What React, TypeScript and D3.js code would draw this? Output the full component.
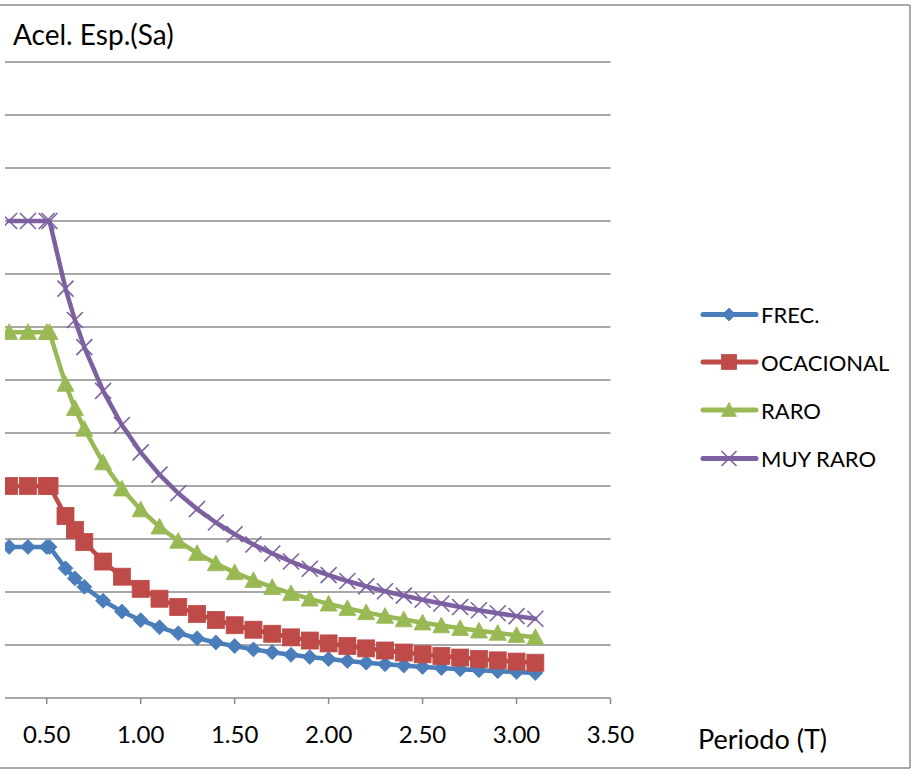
import React from "react";
import * as d3 from "d3";

// Periodo T (s)
const periods = [0.3, 0.4, 0.5, 0.515, 0.6, 0.65, 0.7, 0.8, 0.9, 1.0, 1.1, 1.2, 1.3, 1.4, 1.5, 1.6, 1.7, 1.8, 1.9, 2.0, 2.1, 2.2, 2.3, 2.4, 2.5, 2.6, 2.7, 2.8, 2.9, 3.0, 3.1];

const frec = [0.285, 0.285, 0.285, 0.285, 0.2446, 0.2258, 0.2097, 0.1835, 0.1631, 0.1468, 0.1334, 0.1223, 0.1129, 0.1048, 0.0979, 0.0917, 0.0863, 0.0815, 0.0773, 0.0734, 0.0699, 0.0667, 0.0638, 0.0612, 0.0587, 0.0565, 0.0544, 0.0524, 0.0506, 0.0489, 0.0473];
const ocacional = [0.4, 0.4, 0.4, 0.4, 0.3433, 0.3169, 0.2943, 0.2575, 0.2289, 0.206, 0.1873, 0.1717, 0.1585, 0.1471, 0.1373, 0.1288, 0.1212, 0.1144, 0.1084, 0.103, 0.0981, 0.0936, 0.0896, 0.0858, 0.0824, 0.0792, 0.0763, 0.0736, 0.071, 0.0687, 0.0665];
const raro = [0.69, 0.69, 0.69, 0.69, 0.5923, 0.5467, 0.5076, 0.4442, 0.3948, 0.3554, 0.323, 0.2961, 0.2733, 0.2538, 0.2369, 0.2221, 0.209, 0.1974, 0.187, 0.1777, 0.1692, 0.1615, 0.1545, 0.1481, 0.1421, 0.1367, 0.1316, 0.1269, 0.1225, 0.1185, 0.1146];
const muyRaro = [0.9, 0.9, 0.9, 0.9, 0.7725, 0.7131, 0.6621, 0.5794, 0.515, 0.4635, 0.4214, 0.3863, 0.3565, 0.3311, 0.309, 0.2897, 0.2726, 0.2575, 0.2439, 0.2318, 0.2207, 0.2107, 0.2015, 0.1931, 0.1854, 0.1783, 0.1717, 0.1655, 0.1598, 0.1545, 0.1495];

const seriesNames = ["FREC.", "OCACIONAL", "RARO", "MUY RARO"];
const seriesColors = ["#4A7EBB", "#BE4B48", "#98B954", "#7D60A0"];
const markerKinds = ["diamond", "square", "triangle", "x"];
const xTicks = [0.5, 1.0, 1.5, 2.0, 2.5, 3.0, 3.5];
const yTicks = [0, 0.1, 0.2, 0.3, 0.4, 0.5, 0.6, 0.7, 0.8, 0.9, 1.0, 1.1, 1.2];

const xTitle = "Periodo (T)";
const yTitle = "Acel. Esp.(Sa)";

const FONT = "Lato, 'Open Sans', sans-serif";

function Marker({ kind, color, size }: { kind: string; color: string; size: number }) {
  const r = size / 2;
  if (kind === "diamond") {
    return <path d={`M0,${-r}L${r},0L0,${r}L${-r},0Z`} fill={color} stroke={color} strokeWidth={0.8} />;
  }
  if (kind === "square") {
    return <rect x={-r} y={-r} width={size} height={size} fill={color} stroke={color} strokeWidth={0.8} />;
  }
  if (kind === "triangle") {
    return <path d={`M0,${-r}L${r},${r * 0.85}L${-r},${r * 0.85}Z`} fill={color} stroke={color} strokeWidth={0.8} />;
  }
  return (
    <g stroke={color} strokeWidth={1.6}>
      <line x1={-r} y1={-r} x2={r} y2={r} />
      <line x1={-r} y1={r} x2={r} y2={-r} />
    </g>
  );
}

export default function App() {
  const W = 917;
  const H = 771;
  const plotLeft = 5;
  const plotRight = 610.5;
  const plotTop = 62;
  const plotBottom = 698;

  const x = d3.scaleLinear().domain([0.278, 3.5]).range([plotLeft, plotRight]);
  const y = d3.scaleLinear().domain([0, 1.2]).range([plotBottom, plotTop]);

  const allSeries = [frec, ocacional, raro, muyRaro];
  const line = d3
    .line<number>()
    .x((_, i) => x(periods[i]))
    .y((d) => y(d));

  const markerSizes = [15, 17, 17, 16];
  const legendMarkerSizes = [13, 15, 15, 15];
  const legendY = [314.5, 362, 410, 458.5];

  return (
    <div style={{ position: "fixed", left: 0, top: 0 }}>
      <svg width={W} height={H} style={{ display: "block", background: "#fff" }}>
        <defs>
          <clipPath id="plotClip">
            <rect x={plotLeft} y={0} width={W - plotLeft} height={H} />
          </clipPath>
        </defs>
        {/* chart border */}
        <line x1={0} y1={5} x2={910} y2={5} stroke="#8c8c8c" strokeWidth={1.5} />
        <line x1={910} y1={5} x2={910} y2={768} stroke="#8c8c8c" strokeWidth={1.5} />
        <line x1={0} y1={768} x2={910} y2={768} stroke="#8c8c8c" strokeWidth={1.5} />

        {/* gridlines */}
        {yTicks.slice(1).map((t) => (
          <line key={t} x1={plotLeft} x2={plotRight} y1={y(t)} y2={y(t)} stroke="#8a8a8a" strokeWidth={1.5} />
        ))}
        {/* x axis */}
        <line x1={plotLeft} x2={plotRight} y1={y(0)} y2={y(0)} stroke="#8a8a8a" strokeWidth={1.5} />
        {xTicks.map((t) => (
          <g key={t}>
            <line x1={x(t)} x2={x(t)} y1={y(0)} y2={y(0) + 6} stroke="#8a8a8a" strokeWidth={1.5} />
            <text x={x(t)} y={743} textAnchor="middle" fontFamily={FONT} fontSize={24} fill="#000">
              {t.toFixed(2)}
            </text>
          </g>
        ))}
        <text x={698} y={749} fontFamily={FONT} fontSize={27} fill="#000">{xTitle}</text>
        <text x={13} y={45} fontFamily={FONT} fontSize={28} fill="#000">{yTitle}</text>

        {/* series */}
        <g clipPath="url(#plotClip)">
          {allSeries.map((s, si) => (
            <path key={si} d={line(s) || ""} fill="none" stroke={seriesColors[si]} strokeWidth={4.5} strokeLinejoin="round" strokeLinecap="round" />
          ))}
          {allSeries.map((s, si) => (
            <g key={"m" + si}>
              {s.map((v, i) => (
                <g key={i} transform={`translate(${x(periods[i])},${y(v)})`}>
                  <Marker kind={markerKinds[si]} color={seriesColors[si]} size={markerSizes[si]} />
                </g>
              ))}
            </g>
          ))}
        </g>

        {/* legend */}
        {seriesNames.map((name, i) => (
          <g key={name} transform={`translate(0,${legendY[i]})`}>
            <line x1={703} x2={756} y1={0} y2={0} stroke={seriesColors[i]} strokeWidth={5} strokeLinecap="round" />
            <g transform="translate(729,0)">
              <Marker kind={markerKinds[i]} color={seriesColors[i]} size={legendMarkerSizes[i]} />
            </g>
            <text x={761} y={8.5} fontFamily={FONT} fontSize={22} fill="#000">{name}</text>
          </g>
        ))}
      </svg>
    </div>
  );
}
